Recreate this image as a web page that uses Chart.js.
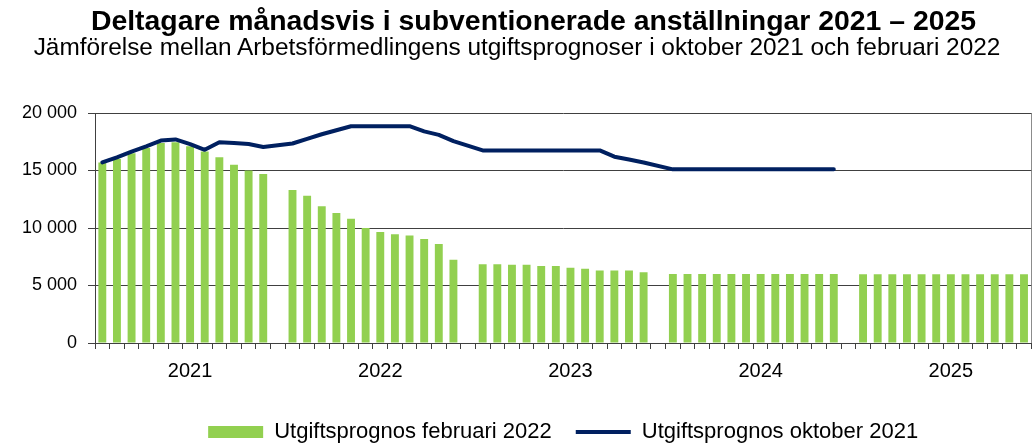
<!DOCTYPE html>
<html lang="sv">
<head>
<meta charset="utf-8">
<title>Deltagare månadsvis i subventionerade anställningar 2021 – 2025</title>
<script src="https://cdn.jsdelivr.net/npm/chart.js@4.4.1/dist/chart.umd.min.js"></script>
<style>
  html, body { margin: 0; padding: 0; background: #fff; overflow: hidden; }
  .wrap { position: relative; width: 1034px; height: 444px; font-family: Arial, "Liberation Sans", sans-serif; color: #000; }
  .title { position: absolute; top: 5px; left: 33px; right: 0; text-align: center; font-weight: bold; font-size: 28.4px; line-height: 30px; white-space: nowrap; }
  .subtitle { position: absolute; top: 34px; left: 0; right: 0; text-align: center; font-size: 24.4px; line-height: 26px; white-space: nowrap; }
  canvas { position: absolute; left: 0; top: 0; }
</style>
</head>
<body>
<div class="wrap">
  <canvas id="chart" width="1034" height="444"></canvas>
  <div class="title">Deltagare månadsvis i subventionerade anställningar 2021 – 2025</div>
  <div class="subtitle">Jämförelse mellan Arbetsförmedlingens utgiftsprognoser i oktober 2021 och februari 2022</div>
</div>
<script>
// --- data (deltagare per månad) ---
const years = ['2021', '2022', '2023', '2024', '2025'];

// Utgiftsprognos februari 2022 (staplar), jan 2021 - dec 2025
const prognosFeb2022 = [
  15700, 16000, 16500, 16950, 17400, 17450, 17100, 16650, 16150, 15500, 15000, 14700,
  13300, 12800, 11900, 11300, 10800, 10000, 9650, 9450, 9350, 9050, 8600, 7250,
  6850, 6850, 6800, 6800, 6700, 6700, 6550, 6450, 6300, 6300, 6300, 6150,
  5990, 5990, 5990, 5990, 5990, 5990, 5990, 5990, 5990, 5990, 5990, 5990,
  5980, 5980, 5980, 5980, 5980, 5980, 5980, 5980, 5980, 5980, 5980, 5980
];

// Utgiftsprognos oktober 2021 (linje), jan 2021 - dec 2024
const prognosOkt2021 = [
  15700, 16150, 16650, 17100, 17600, 17700, 17300, 16800, 17450, 17400, 17300, 17050,
  17350, 17750, 18150, 18500, 18850, 18850, 18850, 18850, 18850, 18400, 18100, 17550,
  16750, 16750, 16750, 16750, 16750, 16750, 16750, 16750, 16750, 16200, 15950, 15700,
  15100, 15100, 15100, 15100, 15100, 15100, 15100, 15100, 15100, 15100, 15100, 15100
];

const yTicks = [0, 5000, 10000, 15000, 20000];

// --- build the category axis: 12 months per year, one empty slot between years ---
const labels = [];
const barData = [];
const lineData = [];
years.forEach((year, y) => {
  for (let m = 0; m < 12; m++) {
    const i = y * 12 + m;
    labels.push(m === 6 ? year : '');   // July sits in the middle of the year group
    barData.push(prognosFeb2022[i]);
    lineData.push(i < prognosOkt2021.length ? prognosOkt2021[i] : null);
  }
  if (y < years.length - 1) {
    labels.push('');
    barData.push(null);
    lineData.push(null);
  }
});

const fmt = v => String(v).replace(/\B(?=(\d{3})+(?!\d))/g, ' ');
const axisColor = '#404040';
const font = 'Arial, "Liberation Sans", sans-serif';

new Chart(document.getElementById('chart'), {
  data: {
    labels,
    datasets: [
      {
        type: 'bar',
        label: 'Utgiftsprognos februari 2022',
        data: barData,
        backgroundColor: '#92D050',
        borderWidth: 0,
        barPercentage: 0.54,
        categoryPercentage: 1,
        pointStyle: 'rect',
        order: 1
      },
      {
        type: 'line',
        label: 'Utgiftsprognos oktober 2021',
        data: lineData,
        borderColor: '#002060',
        backgroundColor: '#002060',
        borderWidth: 4,
        pointRadius: 0,
        pointStyle: 'line',
        tension: 0,
        spanGaps: true,
        borderJoinStyle: 'round',
        borderCapStyle: 'round',
        order: 0
      }
    ]
  },
  options: {
    responsive: false,
    animation: false,
    // legend is allowed to run past the bottom edge, as in the cropped original
    layout: { padding: { top: 113, right: 1, bottom: -9, left: 0 } },
    plugins: {
      tooltip: { enabled: false },
      legend: {
        position: 'bottom',
        fullSize: false,
        labels: {
          usePointStyle: true,
          pointStyleWidth: 55,
          boxHeight: 12,
          padding: 24,
          color: '#000',
          font: { size: 22, family: font },
          sort: (a, b) => a.datasetIndex - b.datasetIndex
        }
      }
    },
    scales: {
      x: {
        grid: {
          offset: true,
          drawOnChartArea: true,
          // only the closing line on the right edge is visible
          color: c => c.type === 'scale' ? '#8c8c8c' : 'rgba(0,0,0,0)',
          tickColor: axisColor,
          tickLength: 6
        },
        border: { display: true, color: axisColor },
        ticks: {
          autoSkip: false, maxRotation: 0, minRotation: 0, padding: 10,
          color: '#000',
          font: { size: 20, family: font }
        },
        afterFit: s => { s.height = 54; }
      },
      y: {
        min: 0,
        max: 20000,
        afterBuildTicks: s => { s.ticks = yTicks.map(v => ({ value: v })); },
        grid: { color: axisColor, tickColor: axisColor, tickLength: 7 },
        border: { display: true, color: axisColor },
        ticks: {
          padding: 11,
          color: '#000',
          font: { size: 18, family: font },
          callback: v => fmt(v)
        },
        afterFit: s => { s.width = 95; }
      }
    }
  }
});
</script>
</body>
</html>
